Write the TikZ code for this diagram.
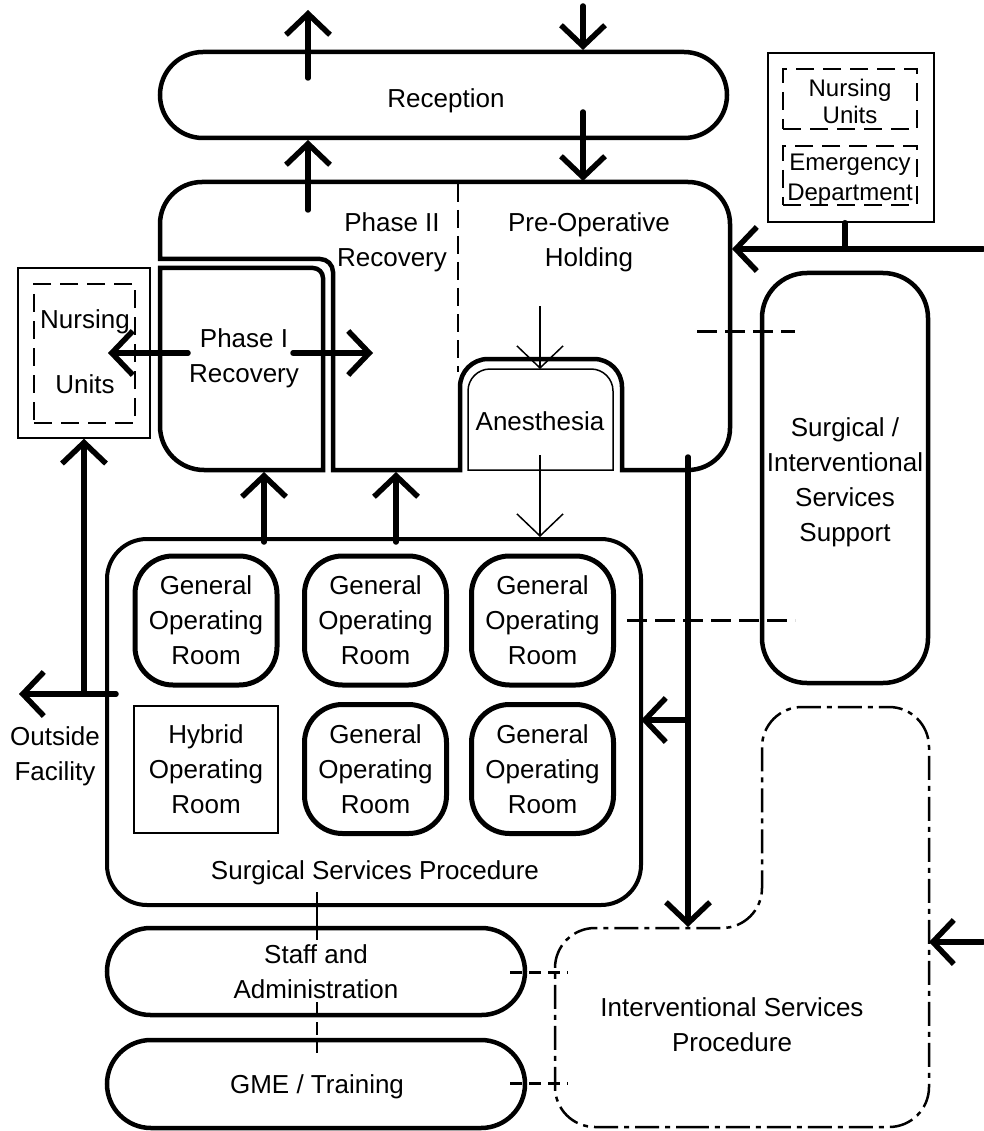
\documentclass[tikz,border=0pt]{standalone}
\usepackage{fontspec}
\setmainfont{Liberation Sans}
\usetikzlibrary{arrows.meta,shapes.misc}
\begin{document}
\begin{tikzpicture}[x=1pt,y=-1pt,
  lbl/.style={font=\fontsize{26}{35}\selectfont,align=center,inner sep=0pt},
  nulbl/.style={font=\fontsize{24}{27}\selectfont,align=center,inner sep=0pt},
  edlbl/.style={font=\fontsize{24}{30}\selectfont,align=center,inner sep=0pt},
  outline/.style={draw,line width=4.5pt},
  stadium/.style={outline,rounded rectangle,inner sep=0pt},
  roombox/.style={draw,line width=5pt,rounded corners=38pt,minimum width=142pt,minimum height=129pt,inner sep=0pt,font=\fontsize{26}{35}\selectfont,align=center},
  thinbox/.style={draw,line width=1.5pt,inner sep=0pt},
  dashbox/.style={draw,line width=2pt,dash pattern=on 18pt off 9pt,inner sep=0pt},
  bigarrow/.style={line width=5.5pt,line cap=round,-{Straight Barb[length=21pt,width=44pt]}},
  thinarrow/.style={line width=1.5pt,-{Straight Barb[length=22pt,width=46pt]}},
  linkdash/.style={line width=3pt,dash pattern=on 20pt off 8pt},
  shortdash/.style={line width=3pt,dash pattern=on 12pt off 7pt},
  dashdot/.style={line width=2.5pt,dash pattern=on 24pt off 6pt on 5pt off 6pt},
]
\useasboundingbox (0,0) rectangle (983,1131);

% ---------- Reception ----------
\node[stadium,minimum width=567pt,minimum height=86pt] (rec) at (443.5,95) {};
\node[lbl] (rect) at (446,101) {Reception};

% ---------- Recovery / pre-operative complex ----------
\draw[line width=4.5pt] (400,470) -- (460,470) [rounded corners=28pt] -- (460,359) -- (622,359) [sharp corners] -- (622,470) [rounded corners=42pt] -- (730,470) -- (730,182) -- (160,182) [sharp corners] -- (160,259) [rounded corners=13pt] -- (333,259) [sharp corners] -- (333,470) -- cycle;
% Phase I box
\draw[line width=4.5pt] (240,470) [rounded corners=44pt] -- (160,470) [sharp corners] -- (160,268) [rounded corners=10pt] -- (323,268) [sharp corners] -- (323,470) -- cycle;
% Anesthesia inner box
\draw[line width=1.5pt] (540,470) -- (468,470) [rounded corners=22pt] -- (468,369) -- (613,369) [sharp corners] -- (613,470) -- cycle;
% divider
\coordinate (divtop) at (458,184);
\coordinate (divbot) at (458,372);
\draw[line width=2.5pt,dash pattern=on 18pt off 8pt] (divtop) -- (divbot);

\node[lbl] (ph2) at (392,242) {Phase II\\Recovery};
\node[lbl] (preop) at (589,242) {Pre-Operative\\Holding};
\node[lbl] (ph1) at (244,358) {Phase I\\Recovery};
\node[lbl] (anes) at (540,421) {Anesthesia};

% ---------- Left nursing units ----------
\node[thinbox,minimum width=132pt,minimum height=170pt] (nuL) at (84,353) {};
\node[dashbox,minimum width=101pt,minimum height=139pt] (nuLd) at (84.5,353.5) {};
\node[lbl] (nuLt1) at (85,322) {Nursing};
\node[lbl] (nuLt2) at (85,384) {Units};

% ---------- Top-right sources ----------
\node[thinbox,minimum width=166pt,minimum height=169pt] (src) at (851,137.5) {};
\node[dashbox,minimum width=134pt,minimum height=60pt] (nuR) at (850,99) {};
\node[dashbox,minimum width=134pt,minimum height=59pt] (ed) at (850,175.5) {};
\node[nulbl] (nuRt) at (850,101.5) {Nursing\\Units};
\node[edlbl] (edt) at (850,179.5) {Emergency\\Department};

% ---------- Support ----------
\node[outline,rounded corners=45pt,minimum width=166pt,minimum height=410pt] (sup) at (845,478) {};
\node[lbl] (supt) at (845,482) {Surgical /\\Interventional\\Services\\Support};

% ---------- Surgical services procedure ----------
\node[outline,line width=4pt,rounded corners=40pt,minimum width=534pt,minimum height=366pt] (ssp) at (374,722) {};
\node[lbl] (sspt) at (375,873) {Surgical Services Procedure};
\node[roombox] (or1) at (206,620.5) {General\\Operating\\Room};
\node[roombox] (or2) at (375.5,620.5) {General\\Operating\\Room};
\node[roombox] (or3) at (542.5,620.5) {General\\Operating\\Room};
\node[thinbox,minimum width=144pt,minimum height=127pt,lbl] (hyb) at (206,769.5) {Hybrid\\Operating\\Room};
\node[roombox] (or4) at (375.5,769) {General\\Operating\\Room};
\node[roombox] (or5) at (542.5,769) {General\\Operating\\Room};

\node[lbl] (out) at (55,756) {Outside\\Facility};

% ---------- Staff / GME ----------
\node[stadium,lbl,minimum width=418pt,minimum height=87pt] (staff) at (316,971.5) {Staff and\\Administration};
\node[stadium,minimum width=418pt,minimum height=88pt] (gme) at (316,1084) {};
\node[lbl] (gmet) at (317,1087) {GME / Training};

% ---------- Interventional services procedure ----------
\draw[dashdot] (740,1127) [rounded corners=40pt] -- (555,1127) -- (555,928) -- (762,928) -- (762,707) -- (929,707) -- (929,1127) -- cycle;
\coordinate (isp) at (929,942);
\node[lbl] (ispt) at (732,1025) {Interventional Services\\Procedure};

% ---------- Arrows ----------
\coordinate (a1s) at (308,78);  \coordinate (a1e) at (308,10);
\coordinate (a2s) at (583,6);   \coordinate (a2e) at (583,50);
\coordinate (a3s) at (308,210); \coordinate (a3e) at (308,140);
\coordinate (a4s) at (583,112); \coordinate (a4e) at (583,181);
\draw[bigarrow] (a1s) -- (a1e);
\draw[bigarrow] (a2s) -- (a2e);
\draw[bigarrow] (a3s) -- (a3e);
\draw[bigarrow] (a4s) -- (a4e);

% from right into pre-op
\coordinate (rin) at (983,249);
\coordinate (preR) at (732,249);
\draw[bigarrow] (rin) -- (preR);
\coordinate (srcJ) at (845,249);
\draw[line width=5.5pt,line cap=round] (src.south -| srcJ) -- (srcJ);

% Phase I arrows
\coordinate (p1l) at (188,353); \coordinate (p1r) at (293,353);
\coordinate (p1lt) at (108,353); \coordinate (p1rt) at (373,353);
\draw[bigarrow] (p1l) -- (p1lt);
\draw[bigarrow] (p1r) -- (p1rt);

% surgical to recovery
\coordinate (s1) at (264,542); \coordinate (s1t) at (264,472);
\coordinate (s2) at (396,542); \coordinate (s2t) at (396,472);
\draw[bigarrow] (s1) -- (s1t);
\draw[bigarrow] (s2) -- (s2t);

% outside facility / nursing
\coordinate (oj) at (84,694);
\coordinate (os) at (116,694);
\coordinate (ot) at (19,694);
\draw[bigarrow] (os) -- (ot);
\draw[bigarrow] (oj) -- (nuL.south);

% anesthesia thin arrows
\coordinate (an1) at (540,306); \coordinate (an1t) at (540,369);
\coordinate (an2) at (540,455); \coordinate (an2t) at (540,537);
\draw[thinarrow] (an1) -- (an1t);
\draw[thinarrow] (an2) -- (an2t);

% vertical trunk to interventional
\coordinate (tr1) at (688,457);
\coordinate (tr2) at (688,927);
\coordinate (trb) at (688,720);
\coordinate (trbt) at (641,720);
\draw[bigarrow] (tr1) -- (tr2);
\draw[bigarrow] (trb) -- (trbt);

% right into interventional
\coordinate (rin2) at (983,942);
\draw[bigarrow] (rin2) -- (isp);

% dashed links
\coordinate (d1a) at (697,331); \coordinate (d1b) at (795,331);
\coordinate (d2a) at (627,620); \coordinate (d2b) at (795,620);
\draw[linkdash] (d1a) -- (d1b);
\draw[linkdash] (d2a) -- (d2b);
\coordinate (d3a) at (510,972); \coordinate (d3b) at (568,972);
\coordinate (d4a) at (510,1083); \coordinate (d4b) at (568,1083);
\draw[shortdash] (d3a) -- (d3b);
\draw[shortdash] (d4a) -- (d4b);

% staff links
\coordinate (v1) at (317,892); \coordinate (v2) at (317,940);
\coordinate (v3) at (317,1002); \coordinate (v4) at (317,1053);
\draw[line width=2pt] (v1) -- (v2);
\draw[line width=2.5pt,dash pattern=on 13pt off 7pt] (v3) -- (v4);
\end{tikzpicture}
\end{document}
